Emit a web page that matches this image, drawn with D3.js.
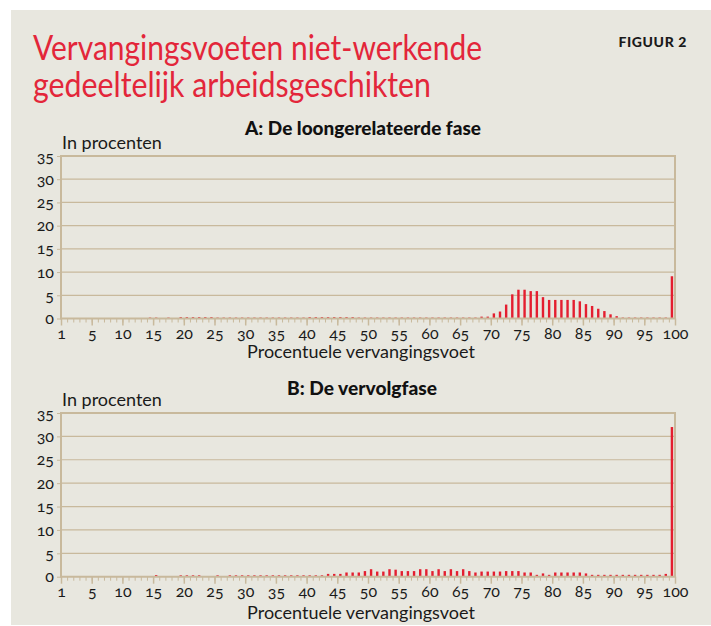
<!DOCTYPE html>
<html>
<head>
<meta charset="utf-8">
<style>
  body { margin: 0; background: #fff; }
  svg { display: block; font-family: Lato, "Open Sans", sans-serif; }
  .title { fill: #e3263a; font-family: Lato, sans-serif; font-weight: 400; font-size: 34px; }
  .figuur { fill: #1a1a1a; font-weight: 900; font-size: 14px; letter-spacing: 0.6px; }
  .subtitle { fill: #111; font-weight: 900; font-size: 18px; }
  .unit, .xtitle { fill: #1a1a1a; font-size: 18px; }
  .axis text { fill: #1a1a1a; font-family: Lato, sans-serif; font-size: 16px; font-variant-numeric: oldstyle-nums; }
  .axis .domain { display: none; }
  .axis line { stroke: #c8b99c; }
</style>
</head>
<body>
<svg width="711" height="626"></svg>
<script src="https://cdn.jsdelivr.net/npm/d3@7/dist/d3.min.js"></script>
<script>
var svg = d3.select("svg"),
    width = +svg.attr("width"),
    height = +svg.attr("height");

// percentage replacement rate, 1..100
var categories = d3.range(1, 101);

var tickLabels = [1, 5, 10, 15, 20, 25, 30, 35, 40, 45, 50, 55, 60, 65, 70, 75, 80, 85, 90, 95, 100];
var yTicks = [0, 5, 10, 15, 20, 25, 30, 35];

// A: De loongerelateerde fase (in procenten)
var valuesA = [
  0, 0, 0, 0, 0, 0, 0, 0, 0, 0,
  0, 0, 0, 0, 0.2, 0.2, 0, 0.2, 0, 0.3,
  0.3, 0.3, 0.3, 0.3, 0.3, 0.2, 0.2, 0.2, 0.2, 0.2,
  0.2, 0.2, 0.2, 0.2, 0.2, 0.2, 0.2, 0.2, 0.2, 0.2,
  0.3, 0.3, 0.3, 0.3, 0.3, 0.3, 0.3, 0.3, 0.2, 0.2,
  0.2, 0.2, 0.2, 0.2, 0.2, 0.2, 0.2, 0.2, 0.2, 0.2,
  0.2, 0.2, 0.2, 0.2, 0.2, 0.2, 0.2, 0.2, 0.4, 0.4,
  1.1, 1.5, 3.0, 5.2, 6.2, 6.2, 5.9, 5.9, 4.6, 4.0,
  4.0, 4.0, 4.0, 4.0, 3.7, 3.1, 2.7, 2.1, 1.6, 0.9,
  0.5, 0.2, 0.2, 0.2, 0.2, 0.2, 0.2, 0.2, 0.2, 9.1
];

// B: De vervolgfase (in procenten)
var valuesB = [
  0, 0, 0, 0, 0, 0, 0, 0, 0, 0,
  0, 0, 0, 0, 0, 0.35, 0, 0, 0, 0.3,
  0.3, 0.3, 0.3, 0, 0, 0.3, 0, 0.3, 0.3, 0.3,
  0.3, 0.3, 0.3, 0.3, 0.3, 0.3, 0.3, 0.3, 0.3, 0.3,
  0.3, 0.3, 0.3, 0.6, 0.6, 0.6, 0.9, 0.9, 0.9, 1.2,
  1.6, 1.1, 1.1, 1.6, 1.5, 1.2, 1.2, 1.2, 1.6, 1.6,
  1.2, 1.6, 1.2, 1.6, 1.2, 1.6, 1.2, 0.9, 1.1, 1.1,
  1.1, 1.1, 1.2, 1.2, 1.2, 0.9, 0.9, 0.4, 0.7, 0.4,
  0.9, 0.9, 0.9, 0.9, 0.9, 0.7, 0.4, 0.4, 0.4, 0.4,
  0.4, 0.4, 0.4, 0.4, 0.4, 0.4, 0.4, 0.4, 0.6, 32.0
];

var red = "#e41e2f",
    grid = "#c8b99c";

var plotLeft = 61, plotRight = 675;
var barWidth = 2.4;

var x = d3.scaleLinear()
    .domain([0.5, 100.5])
    .range([plotLeft, plotRight]);

// background card
svg.append("rect").attr("width", width).attr("height", height).attr("fill", "#fff");
svg.append("rect")
    .attr("x", 11).attr("y", 10)
    .attr("width", width - 11).attr("height", height - 11)
    .attr("fill", "#e8e7df");

// title set in a condensed width
svg.append("text").attr("class", "title").attr("x", 33).attr("y", 60)
    .attr("textLength", 449).attr("lengthAdjust", "spacingAndGlyphs")
    .text("Vervangingsvoeten niet-werkende");
svg.append("text").attr("class", "title").attr("x", 33).attr("y", 97)
    .attr("textLength", 398).attr("lengthAdjust", "spacingAndGlyphs")
    .text("gedeeltelijk arbeidsgeschikten");
svg.append("text").attr("class", "figuur").attr("x", 687).attr("y", 47)
    .attr("text-anchor", "end").text("FIGUUR 2");

function drawPanel(p) {
  var y = d3.scaleLinear()
      .domain([0, 35])
      .range([p.bottom, p.top]);

  var g = svg.append("g");

  g.append("text").attr("class", "subtitle")
      .attr("x", p.subX).attr("y", p.subY)
      .attr("textLength", p.subW).attr("lengthAdjust", "spacingAndGlyphs")
      .text(p.title);
  g.append("text").attr("class", "unit")
      .attr("x", 62).attr("y", p.unitY)
      .text("In procenten");

  g.selectAll(".grid")
    .data(yTicks.slice(1, -1))
    .enter().append("line")
      .attr("x1", plotLeft).attr("x2", plotRight)
      .attr("y1", function(d) { return y(d); })
      .attr("y2", function(d) { return y(d); })
      .attr("stroke", grid).attr("stroke-width", 1.2);

  g.selectAll(".bar")
    .data(p.values)
    .enter().append("rect")
      .attr("x", function(d, i) { return x(categories[i]) - barWidth / 2; })
      .attr("y", function(d) { return y(d); })
      .attr("width", barWidth)
      .attr("height", function(d) { return y(0) - y(d); })
      .attr("fill", red);

  // frame: top, right, left
  g.append("path")
      .attr("d", "M" + plotLeft + "," + p.bottom + "V" + y(35) + "H" + plotRight + "V" + p.bottom)
      .attr("fill", "none").attr("stroke", grid).attr("stroke-width", 2);

  var yAxis = d3.axisLeft(y).tickValues(yTicks).tickSize(4).tickPadding(3);
  g.append("g").attr("class", "axis")
      .attr("transform", "translate(" + plotLeft + ",0)")
      .call(yAxis);

  var minor = d3.axisBottom(x).tickValues(d3.range(0.5, 101, 1)).tickSize(4).tickFormat("");
  g.append("g").attr("class", "axis")
      .attr("transform", "translate(0," + p.bottom + ")")
      .call(minor);

  var major = d3.axisBottom(x)
      .tickValues(tickLabels.map(function(d) { return d === 1 ? 0.5 : d + 0.5; }))
      .tickSize(7).tickPadding(2)
      .tickFormat(function(d, i) { return tickLabels[i]; });
  g.append("g").attr("class", "axis")
      .attr("transform", "translate(0," + p.bottom + ")")
      .call(major)
    .selectAll("line").attr("stroke-width", 1.5);

  g.append("line")
      .attr("x1", plotLeft - 1).attr("x2", plotRight + 1)
      .attr("y1", p.bottom).attr("y2", p.bottom)
      .attr("stroke", grid).attr("stroke-width", 2);

  g.append("text").attr("class", "xtitle")
      .attr("x", 361).attr("y", p.xTitleY).attr("text-anchor", "middle")
      .text("Procentuele vervangingsvoet");
}

drawPanel({ title: "A: De loongerelateerde fase", values: valuesA,
            top: 156, bottom: 318.5, subX: 245, subW: 236, subY: 135, unitY: 149, xTitleY: 358 });
drawPanel({ title: "B: De vervolgfase", values: valuesB,
            top: 413, bottom: 576.7, subX: 287, subW: 150, subY: 395, unitY: 406, xTitleY: 619 });
</script>
</body>
</html>
